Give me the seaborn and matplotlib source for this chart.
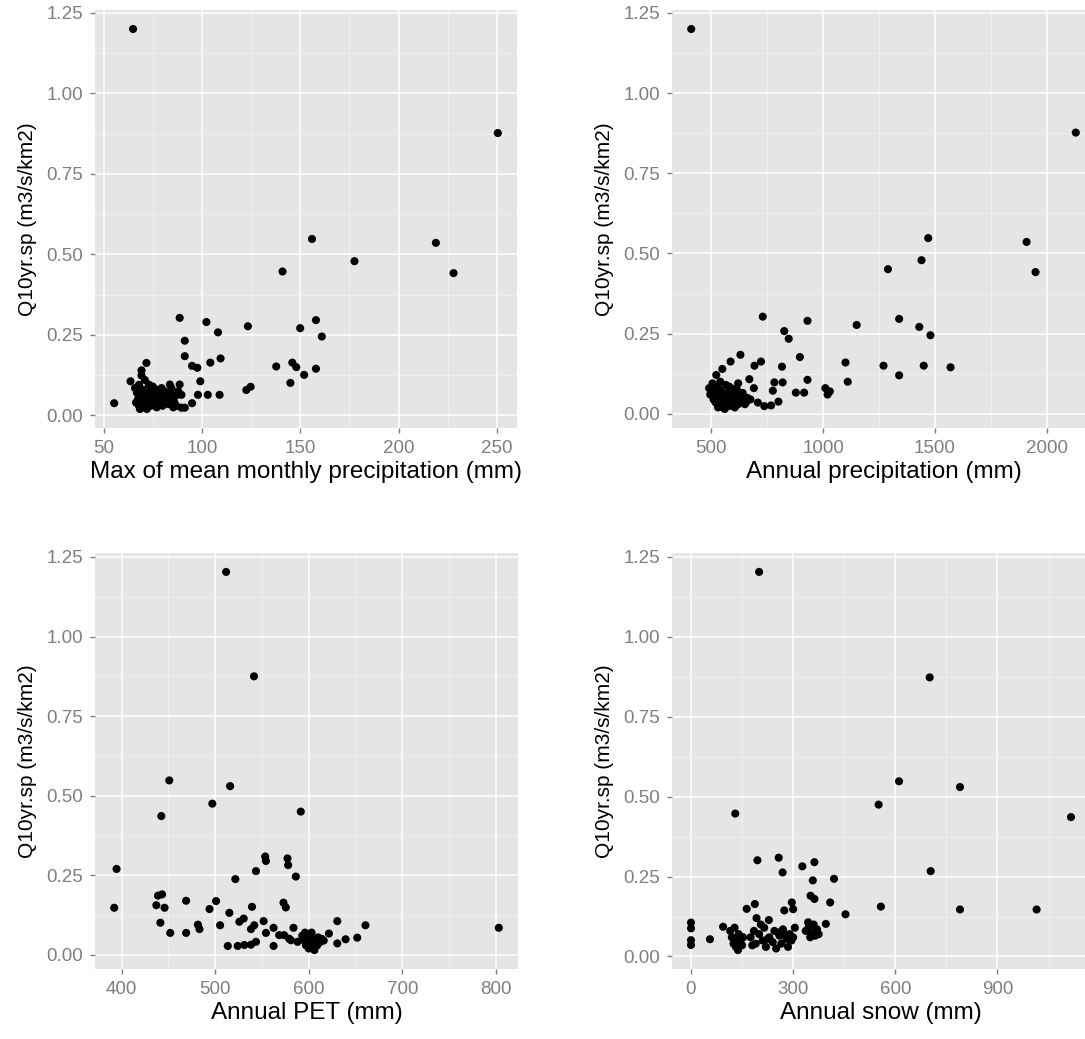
import numpy as np
import pandas as pd
import matplotlib
matplotlib.use("Agg")
import matplotlib.pyplot as plt
import seaborn as sns
from matplotlib.ticker import AutoMinorLocator

# Panel 1: max of mean monthly precipitation vs Q10yr.sp
maxp_x = [65, 250.5, 156, 219, 177.6, 141, 228, 158, 150, 161, 88.7, 102.3, 108.2, 123.4,
          91.3, 91.3, 95, 97.7, 104.3, 109.5, 137.8, 146, 148, 158, 152, 145, 99.2, 122.6,
          124.8, 98, 103, 109, 95, 89.6, 91.3, 55.4, 63.7, 71.8, 69.3, 69.3, 73, 83.7, 88.7,
          89.6,
          66, 67, 67.5, 68, 68.5, 69, 69.5, 70, 70, 70.5, 71, 71.5, 72, 72, 73, 73.5, 74,
          74.5, 75, 76, 76.5, 77, 78, 78.5, 79, 80, 80.5, 81, 82, 82.5, 83, 84, 84.5, 85,
          86, 86.5, 87, 88, 66.5, 68, 71, 75, 77, 79.5, 85.5]
maxp_y = [1.20, 0.877, 0.548, 0.536, 0.479, 0.447, 0.442, 0.296, 0.271, 0.245, 0.303, 0.290,
          0.258, 0.277, 0.232, 0.184, 0.154, 0.148, 0.164, 0.177, 0.152, 0.164, 0.150, 0.145,
          0.126, 0.101, 0.106, 0.079, 0.089, 0.064, 0.064, 0.064, 0.038, 0.024, 0.024, 0.038,
          0.106, 0.163, 0.140, 0.124, 0.096, 0.096, 0.096, 0.064,
          0.085, 0.07, 0.05, 0.03, 0.02, 0.06, 0.045, 0.08, 0.035, 0.025, 0.055, 0.065, 0.04,
          0.02, 0.05, 0.075, 0.03, 0.06, 0.045, 0.035, 0.07, 0.025, 0.05, 0.06, 0.04, 0.03,
          0.065, 0.075, 0.045, 0.055, 0.035, 0.07, 0.085, 0.05, 0.04, 0.06, 0.03, 0.075,
          0.04, 0.095, 0.11, 0.09, 0.08, 0.085, 0.025]

# Panel 2: annual precipitation
annp_x = [410, 2130, 1470, 1440, 1910, 1290, 1950, 1340, 1430, 1480, 1150, 730, 826, 846,
          930, 896, 816, 930, 1100, 1110, 1270, 1340, 1450, 1570, 1010, 1030, 1020, 630, 586,
          722, 693, 549, 522, 670, 782, 819, 775, 878, 915, 800, 708, 737, 767,
          490, 500, 505, 510, 515, 520, 525, 530, 535, 540, 545, 550, 555, 560, 565, 570,
          575, 580, 585, 590, 595, 600, 605, 610, 615, 620, 625, 630, 640, 650, 660, 540,
          560, 580, 600, 620, 495, 515, 530, 550, 570, 610, 635, 655, 675, 690]
annp_y = [1.20, 0.877, 0.548, 0.479, 0.536, 0.451, 0.442, 0.296, 0.271, 0.245, 0.277, 0.303,
          0.258, 0.234, 0.290, 0.177, 0.147, 0.106, 0.160, 0.100, 0.150, 0.120, 0.150, 0.145,
          0.080, 0.070, 0.060, 0.184, 0.163, 0.163, 0.150, 0.140, 0.121, 0.108, 0.098, 0.098,
          0.072, 0.066, 0.066, 0.038, 0.035, 0.024, 0.026,
          0.080, 0.060, 0.095, 0.045, 0.070, 0.035, 0.085, 0.055, 0.030, 0.075, 0.045, 0.020,
          0.065, 0.040, 0.090, 0.030, 0.055, 0.070, 0.025, 0.050, 0.035, 0.060, 0.020, 0.045,
          0.075, 0.030, 0.055, 0.040, 0.065, 0.030, 0.050, 0.100, 0.015, 0.085, 0.025, 0.095,
          0.060, 0.040, 0.020, 0.050, 0.040, 0.080, 0.060, 0.035, 0.045, 0.080]

# Panel 3: annual PET
pet_x = [511.7, 541.5, 451, 516, 497, 591.5, 442.5, 394.7, 392.2, 553.5, 554.3, 577.3, 578,
         543.6, 521.6, 586.2, 439, 443.3, 437.2, 446, 469, 501, 494, 539.4, 573, 575.5, 515.2,
         441.5, 452, 469, 481.6, 483.3, 505.3, 525.9, 530.5, 538.3, 541.8, 551.8, 554.3,
         562.4, 583.7, 568.4, 573.7, 579, 513.5, 524.1, 531.2, 538.3, 543.6, 562.4, 580.9,
         588, 621.6, 630.5, 630.5, 639.4, 651.8, 660.6, 803,
         593, 595, 597, 598, 600, 600, 601, 603, 604, 605, 606, 607, 609, 610, 612, 614, 616,
         596, 603]
pet_y = [1.203, 0.875, 0.548, 0.530, 0.475, 0.450, 0.436, 0.270, 0.148, 0.309, 0.295, 0.303,
         0.282, 0.263, 0.238, 0.246, 0.186, 0.190, 0.156, 0.148, 0.170, 0.169, 0.144, 0.151,
         0.164, 0.149, 0.132, 0.101, 0.069, 0.069, 0.095, 0.081, 0.093, 0.104, 0.114, 0.081,
         0.093, 0.106, 0.069, 0.085, 0.085, 0.062, 0.062, 0.051, 0.028, 0.028, 0.031, 0.032,
         0.041, 0.028, 0.046, 0.041, 0.067, 0.106, 0.036, 0.049, 0.054, 0.093, 0.085,
         0.060, 0.045, 0.030, 0.055, 0.020, 0.040, 0.065, 0.035, 0.050, 0.025, 0.015, 0.045,
         0.030, 0.055, 0.040, 0.050, 0.045, 0.070, 0.070]

# Panel 4: annual snow
snow_x = [200, 701, 611, 551, 790, 130, 1116, 704, 790, 1015,
          195, 257.6, 269, 326.9, 362.5, 357.7, 420, 351, 362.5, 408.7, 453.7, 557.6, 396,
          163.5, 187.5, 274, 296, 300, 228.7, 192.4, 344, 94.2, 55.7, 0, 0, 0, 0,
          115, 120, 125, 128, 132, 135, 138, 140, 145, 150, 153,
          175, 185, 190, 200, 210, 215, 220, 230, 240, 245, 250, 260, 265, 270, 280, 285,
          290, 295, 300, 305, 180, 205, 225, 255, 275,
          337, 345, 350, 355, 360, 365, 370, 375]
snow_y = [1.203, 0.873, 0.548, 0.475, 0.530, 0.447, 0.436, 0.267, 0.147, 0.147,
          0.301, 0.309, 0.263, 0.282, 0.295, 0.238, 0.243, 0.190, 0.180, 0.169, 0.132, 0.156,
          0.102, 0.149, 0.164, 0.144, 0.169, 0.148, 0.114, 0.120, 0.107, 0.093, 0.054, 0.106,
          0.088, 0.051, 0.036,
          0.080, 0.060, 0.040, 0.090, 0.030, 0.050, 0.020, 0.070, 0.045, 0.035, 0.060,
          0.060, 0.080, 0.040, 0.070, 0.050, 0.090, 0.030, 0.060, 0.045, 0.080, 0.025, 0.065,
          0.040, 0.085, 0.055, 0.030, 0.070, 0.050, 0.060, 0.090, 0.035, 0.100, 0.055, 0.075,
          0.070, 0.080, 0.090, 0.060, 0.075, 0.100, 0.065, 0.085, 0.070]

ylabel = "Q10yr.sp (m3/s/km2)"
panels = [
    (maxp_x, maxp_y, "Max of mean monthly precipitation (mm)", [50, 100, 150, 200, 250]),
    (annp_x, annp_y, "Annual precipitation (mm)", [500, 1000, 1500, 2000]),
    (pet_x, pet_y, "Annual PET (mm)", [400, 500, 600, 700, 800]),
    (snow_x, snow_y, "Annual snow (mm)", [0, 300, 600, 900]),
]
yticks = [0.00, 0.25, 0.50, 0.75, 1.00, 1.25]

sns.set_theme(style="darkgrid", rc={
    "axes.facecolor": "#E5E5E5",
    "grid.color": "white",
})
plt.rcParams["font.family"] = ["Liberation Sans", "DejaVu Sans"]

W, H = 1085, 1039
fig = plt.figure(figsize=(W / 100, H / 100), dpi=100)

# pixel boxes: left, right, top, bottom
boxes = [(95, 517, 10, 428), (672, 1095, 10, 428), (95, 518, 553, 969), (672, 1090, 553, 969)]

for (xs, ys, xlabel, xticks), (l, r, t, b) in zip(panels, boxes):
    ax = fig.add_axes([l / W, 1 - b / H, (r - l) / W, (b - t) / H])
    df = pd.DataFrame({"x": xs, "y": ys})
    sns.scatterplot(data=df, x="x", y="y", color="black", s=34, edgecolor="none", ax=ax,
                    zorder=3)
    ax.set_xticks(xticks)
    ax.set_yticks(yticks)
    ax.set_yticklabels([f"{v:.2f}" for v in yticks])
    ax.xaxis.set_minor_locator(AutoMinorLocator(2))
    ax.yaxis.set_minor_locator(AutoMinorLocator(2))
    ax.grid(which="major", color="white", linewidth=1.1)
    ax.grid(which="minor", color="#F2F2F2", linewidth=0.6)
    ax.set_axisbelow(True)
    for sp in ax.spines.values():
        sp.set_visible(False)
    ax.tick_params(which="major", length=3.5, width=1, color="#7F7F7F",
                   labelcolor="#7F7F7F", labelsize=13.5, bottom=True, left=True)
    ax.tick_params(axis="x", pad=5)
    ax.tick_params(axis="y", pad=5)
    ax.tick_params(which="minor", length=0)
    ax.set_xlabel(xlabel, fontsize=17.5, color="black", labelpad=3)
    ax.set_ylabel(ylabel, fontsize=15, color="black", labelpad=7)

fig.savefig("out.png", dpi=100)
